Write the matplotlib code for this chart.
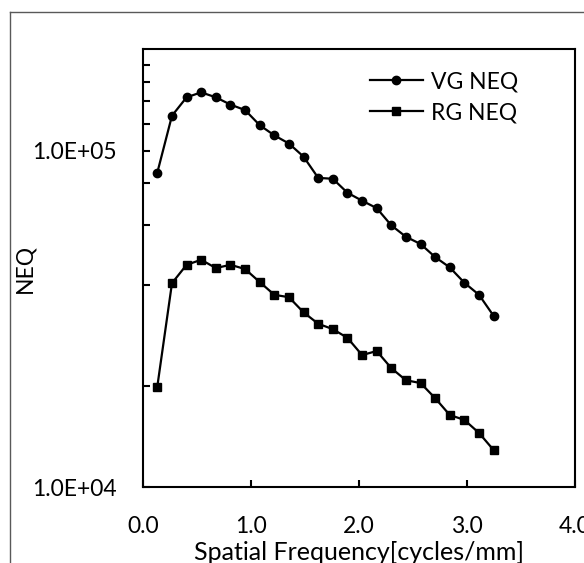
import matplotlib
matplotlib.use("Agg")
import matplotlib.pyplot as plt
from matplotlib.ticker import FixedLocator, FixedFormatter, NullFormatter
from matplotlib.lines import Line2D

plt.rcParams['font.family'] = ['Lato', 'DejaVu Sans']

freq = [0.135, 0.271, 0.406, 0.541, 0.677, 0.812, 0.947, 1.083, 1.218, 1.353,
        1.488, 1.624, 1.759, 1.894, 2.030, 2.165, 2.300, 2.435, 2.571, 2.706,
        2.841, 2.977, 3.112, 3.247]
vg_neq = [8.6e4, 1.27e5, 1.44e5, 1.49e5, 1.44e5, 1.37e5, 1.32e5, 1.19e5, 1.11e5, 1.05e5,
          9.6e4, 8.3e4, 8.25e4, 7.5e4, 7.1e4, 6.75e4, 6.0e4, 5.55e4, 5.28e4, 4.83e4,
          4.5e4, 4.05e4, 3.73e4, 3.23e4]
rg_neq = [1.99e4, 4.04e4, 4.58e4, 4.74e4, 4.48e4, 4.58e4, 4.45e4, 4.07e4, 3.73e4, 3.67e4,
          3.31e4, 3.06e4, 2.95e4, 2.78e4, 2.47e4, 2.54e4, 2.26e4, 2.08e4, 2.04e4, 1.84e4,
          1.64e4, 1.585e4, 1.45e4, 1.29e4]

x_ticks = [0.0, 1.0, 2.0, 3.0, 4.0]
x_tick_labels = ["0.0", "1.0", "2.0", "3.0", "4.0"]
y_major = [1e4, 1e5]
y_major_labels = ["1.0E+04", "1.0E+05"]
y_minor = [2e4, 4e4, 6e4, 8e4, 1.2e5, 1.4e5, 1.6e5, 1.8e5]

FS = 16.5
W, H = 584, 563
fig = plt.figure(figsize=(W / 100, H / 100), dpi=100)
ax = fig.add_axes([142.7 / W, 1 - 487.3 / H, (575 - 142.7) / W, (487.3 - 49.3) / H])

ax.plot(freq, vg_neq, color='black', lw=1.6, marker='o', ms=6, label='VG NEQ')
ax.plot(freq, rg_neq, color='black', lw=1.6, marker='s', ms=6.3, label='RG NEQ')

ax.set_yscale('log')
ax.set_xlim(0, 4)
ax.set_ylim(1e4, 2e5)

ax.xaxis.set_major_locator(FixedLocator(x_ticks))
ax.xaxis.set_major_formatter(FixedFormatter(x_tick_labels))
ax.yaxis.set_major_locator(FixedLocator(y_major))
ax.yaxis.set_major_formatter(FixedFormatter(y_major_labels))
ax.yaxis.set_minor_locator(FixedLocator(y_minor))
ax.yaxis.set_minor_formatter(NullFormatter())
ax.xaxis.set_minor_locator(FixedLocator([]))

ax.tick_params(axis='both', which='both', direction='in', width=1.5, length=5,
               labelsize=FS, colors='black')
ax.tick_params(axis='y', which='both', pad=19)
ax.tick_params(axis='x', which='both', pad=21)
ax.tick_params(axis='x', which='both', top=False)
ax.tick_params(axis='y', which='both', right=False)

for s in ax.spines.values():
    s.set_linewidth(1.5)
    s.set_color('black')

ax.set_ylabel('NEQ', fontsize=FS)
ax.yaxis.set_label_coords((25 - 142.7) / (575 - 142.7), 0.5)
ax.yaxis.label.set_horizontalalignment('center')
ax.yaxis.label.set_verticalalignment('center')
ax.set_xlabel('Spatial Frequency[cycles/mm]', fontsize=18)
ax.xaxis.set_label_coords(0.5, -(560 - 487.3) / (487.3 - 49.3))
ax.xaxis.label.set_verticalalignment('baseline')

leg = ax.legend(loc='upper left', bbox_to_anchor=(370 / W, 1 - 71 / H),
                bbox_transform=fig.transFigure, frameon=False, fontsize=FS,
                handlelength=2.3, handletextpad=0.35, labelspacing=0.45,
                borderpad=0, borderaxespad=0)

# Chart-area border (Excel style), partially cropped
fig.add_artist(Line2D([10 / W, 10 / W], [0, 1 - 12 / H], transform=fig.transFigure,
                      color='#595959', lw=1.0))
fig.add_artist(Line2D([10 / W, 1], [1 - 12 / H, 1 - 12 / H], transform=fig.transFigure,
                      color='#595959', lw=1.0))

fig.savefig('out.png', dpi=100)
